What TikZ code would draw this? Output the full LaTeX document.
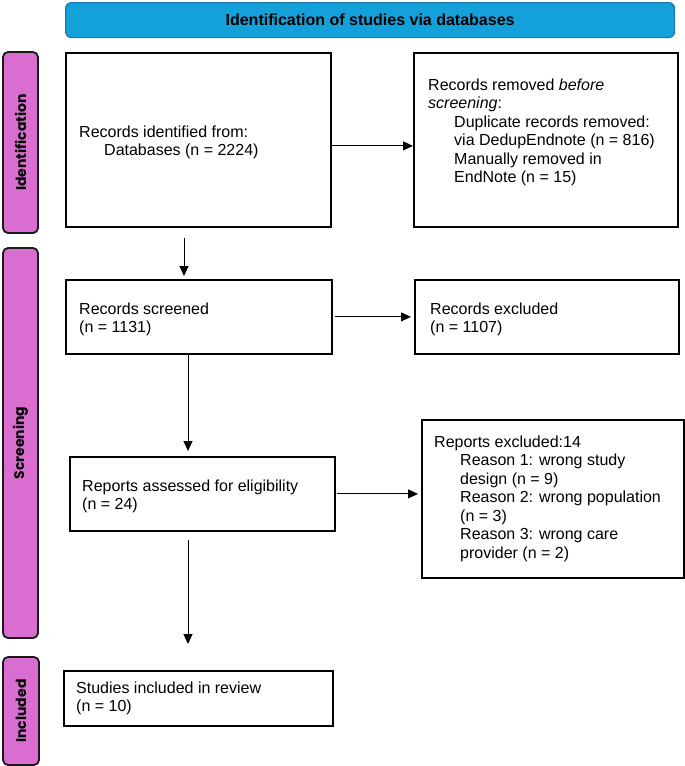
\documentclass[tikz,border=0pt]{standalone}
\usepackage{fontspec}
\setmainfont{Liberation Sans}
\newfontfamily\barfont{Poppins}
\usetikzlibrary{arrows.meta}
\definecolor{hdrfill}{HTML}{14A0D8}
\definecolor{hdrline}{HTML}{1B75A8}
\definecolor{barfill}{HTML}{D96DD0}
\definecolor{barline}{HTML}{1A1A1A}
\newcommand{\ind}{\hspace*{26pt}}
\begin{document}
\begin{tikzpicture}[x=1pt,y=-1pt,
  box/.style={draw=black, line width=1.8pt, inner sep=0pt, anchor=north west},
  boxtext/.style={anchor=north west, inner sep=0pt, align=left, font=\fontsize{16}{18.5}\selectfont},
  arr/.style={-{Triangle[length=10pt,width=9pt]}, line width=0.9pt},
  bar/.style={draw=barline, fill=barfill, line width=1.8pt, rounded corners=5pt},
  barlabel/.style={rotate=90, font=\barfont\bfseries\fontsize{14}{16}\selectfont},
  hdr/.style={draw=hdrline, fill=hdrfill, line width=1.2pt, rounded corners=6pt, inner sep=0pt, anchor=north west}
]
\useasboundingbox (0,0) rectangle (685,766);

% header
\node[hdr, minimum width=609pt, minimum height=35pt] (hdr) at (65,2) {};
\node[font=\bfseries\fontsize{16}{18}\selectfont] (hdrtext) at (hdr.center) {Identification of studies via databases};

% side bars
\draw[bar] (3,52) rectangle (38,233);
\node[barlabel] (lblid) at (20.5,142.5) {Identification};
\draw[bar] (3,248) rectangle (38,638);
\node[barlabel] (lblsc) at (20.5,443) {Screening};
\draw[bar] (3,657) rectangle (39,765);
\node[barlabel] (lblin) at (21,711) {Included};

% boxes
\node[box, minimum width=265pt, minimum height=174pt] (b1) at (65,52) {};
\node[boxtext] (t1) at (79,124) {\strut Records identified from:\\ \hspace*{25pt}Databases (n = 2224)};

\node[box, minimum width=264pt, minimum height=174pt] (b2) at (413,52) {};
\node[boxtext] (t2) at (428,77) {\strut Records removed \textit{before}\\ \textit{screening}:\\ \ind Duplicate records removed:\\ \ind via DedupEndnote (n = 816)\\ \ind Manually removed in\\ \ind EndNote (n = 15)};

\node[box, minimum width=266pt, minimum height=74pt] (b3) at (65,279) {};
\node[boxtext] (t3) at (79,301) {\strut Records screened\\ (n = 1131)};

\node[box, minimum width=264pt, minimum height=74pt] (b4) at (414,279) {};
\node[boxtext] (t4) at (430,301) {\strut Records excluded\\ (n = 1107)};

\node[box, minimum width=265pt, minimum height=74pt] (b5) at (69,456) {};
\node[boxtext] (t5) at (82,478) {\strut Reports assessed for eligibility\\ (n = 24)};

\node[box, minimum width=262pt, minimum height=158pt] (b6) at (421,419) {};
\node[boxtext] (t6) at (434,434) {\strut Reports excluded:14\\ \ind Reason 1: wrong study\\ \ind design (n = 9)\\ \ind Reason 2: wrong population\\ \ind (n = 3)\\ \ind Reason 3: wrong care\\ \ind provider (n = 2)};

\node[box, minimum width=269pt, minimum height=55pt] (b7) at (63,670) {};
\node[boxtext] (t7) at (76,680) {\strut Studies included in review\\ (n = 10)};

% horizontal arrows
\draw[arr] ([yshift=-6pt]b1.east) -- ([yshift=-6pt]b2.west);
\draw[arr, shorten <=2pt, shorten >=3pt] (b3.east) -- (b4.west);
\draw[arr, shorten <=1pt, shorten >=3pt] (b5.east) -- (b5.east -| b6.west);

% vertical arrows
\coordinate (xa) at (184,0);
\coordinate (xb) at (188,0);
\draw[arr, shorten <=10pt, shorten >=3pt] (b1.south -| xa) -- (b3.north -| xa);
\draw[arr, shorten >=5pt] (b3.south -| xb) -- (b5.north -| xb);
\draw[arr, shorten <=8pt, shorten >=26pt] (b5.south -| xb) -- (b7.north -| xb);
\end{tikzpicture}
\end{document}
